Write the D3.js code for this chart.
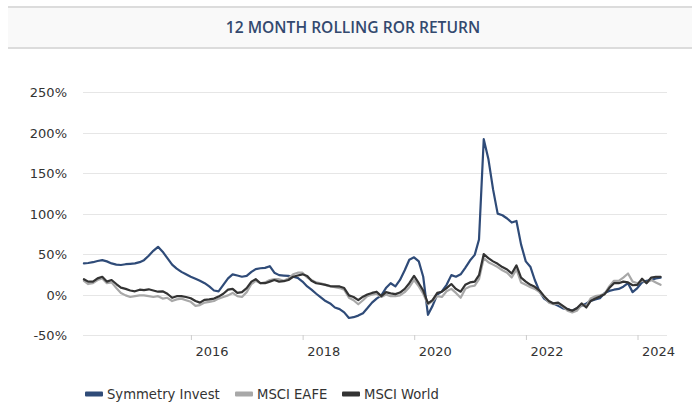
<!DOCTYPE html>
<html>
<head>
<meta charset="utf-8">
<script src="https://cdn.jsdelivr.net/npm/d3@7"></script>
<style>
  body { margin: 0; background: #fff; }
  svg { display: block; }
</style>
</head>
<body>
<svg id="chart" width="700" height="405"></svg>
<script>
// monthly observations, Jan 2014 .. May 2024 (month end)
var firstMonth = new Date(2014, 0, 1);
var symmetry = [38.5, 39, 40, 41.5, 42.5, 41, 38.5, 37, 36.5, 37.5, 38, 38.5,
  40, 42.5, 48, 54, 59, 53, 45, 37, 32, 28, 25, 22,
  19.5, 17, 14, 10, 5, 4, 12, 20, 25, 23.5, 22, 23,
  28, 31.5, 32.5, 33, 35, 27, 24, 23.5, 23, 22, 20.5, 16,
  10, 6, 1, -3.5, -8, -11, -16, -18, -22, -29, -28, -26,
  -23, -17, -10, -5, -1, 8, 14, 10, 18, 30, 43, 46,
  41, 22, -25, -14, 0, 4, 12, 24, 22, 25, 33, 42,
  49, 68, 192, 168, 130, 100, 98, 94, 89, 91, 62, 41,
  34, 18, 4, -5, -9, -11, -14, -17, -18, -20, -17, -14,
  -11, -8, -6, -4.5, 2, 4.5, 6, 7, 9.7, 14, 3, 8,
  15, 17, 18, 20, 21];
var eafe = [17, 13, 14, 18, 20, 14, 15, 8, 2, -1, -3, -2,
  -1, -1, -2, -3, -2, -5, -4, -8, -6, -5, -7, -9,
  -14, -13, -10, -9, -8, -5, -3, -1, 2, -2, -3, 3,
  13, 17, 14, 15, 18, 19, 19, 17, 20, 25, 27, 27,
  21, 18, 15, 14, 12, 10, 9, 8, 6, -4, -7, -12,
  -7, -2, 0, 1, -3, 0, -2, -2, -1, 3, 9, 18,
  10, 1, -12, -8, -2, -3, 4, 7, 2, -4, 7, 10,
  11, 19, 45, 40, 37, 34, 30, 27, 21, 31, 15, 12,
  9, 7, 3, -3, -10, -12, -11, -15, -20, -22, -20, -13,
  -14, -5, -2, -1, 1, 10, 17, 17, 21, 26, 16, 14,
  17, 15, 18, 15, 12];
var world = [19, 16, 16, 20, 22, 16, 18, 13, 8.5, 7, 5, 4,
  6, 5.5, 6.5, 5, 3.5, 4, 1, -4, -2, -2, -3, -4.5,
  -8, -10, -6.5, -6, -5, -2.5, 1, 6, 7, 2, 3, 8,
  16, 19, 14, 14, 16, 18, 16, 16.5, 18, 22, 23.5, 25,
  23, 17, 14, 13, 12, 10.5, 10, 10, 8, -1, -3, -7,
  -2.6, 0, 2, 3.5, -2, 3, 1.5, 0.5, 2.5, 7, 14, 23,
  14, 5, -11, -7, 2, 3.5, 8, 13, 7, 3.5, 12, 15,
  16, 24, 50, 45, 41, 38, 34, 31, 26, 36, 21, 16,
  12, 9.5, 5, -2, -8, -11, -10, -14, -18, -20, -17, -11,
  -16, -8, -5, -2.5, 0.5, 8, 14, 14, 16, 15, 11.5, 12,
  19.5, 14, 21, 22, 22];
var seriesNames = ['Symmetry Invest', 'MSCI EAFE', 'MSCI World'];
var seriesColors = ['#2f4b78', '#a8a8a8', '#333333'];
var yTicks = [-50, 0, 50, 100, 150, 200, 250];
var xTickYears = [2016, 2018, 2020, 2022, 2024];

var months = symmetry.map(function(d, i) {
  return new Date(firstMonth.getFullYear(), firstMonth.getMonth() + i + 1, 0);
});
var allSeries = [symmetry, eafe, world];

var svg = d3.select('#chart');

// title bar
svg.append('rect').attr('x', 8).attr('y', 7).attr('width', 684).attr('height', 41).attr('fill', '#f9f9f9');
svg.append('line').attr('x1', 8).attr('x2', 692).attr('y1', 7).attr('y2', 7).attr('stroke', '#dcdcdc').attr('stroke-width', 2);
svg.append('line').attr('x1', 8).attr('x2', 692).attr('y1', 48).attr('y2', 48).attr('stroke', '#dcdcdc').attr('stroke-width', 2);
svg.append('text').attr('x', 353).attr('y', 33).attr('text-anchor', 'middle')
  .style('font-family', '"Open Sans", sans-serif').style('font-size', '15.6px').style('font-weight', 600)
  .style('fill', '#33496f').text('12 MONTH ROLLING ROR RETURN');

var x = d3.scaleTime().domain([new Date(2014, 0, 25), new Date(2024, 6, 12)]).range([83, 667]);
var y = d3.scaleLinear().domain([-50, 250]).range([335, 92.3]);

// grid
svg.append('g').selectAll('line').data(yTicks).enter().append('line')
  .attr('x1', 83).attr('x2', 667)
  .attr('y1', function(d) { return Math.round(y(d)) + 0.5; })
  .attr('y2', function(d) { return Math.round(y(d)) + 0.5; })
  .attr('stroke', '#e6e6e6').attr('stroke-width', 1);

var yAxis = svg.append('g').attr('transform', 'translate(67,0)')
  .call(d3.axisLeft(y).tickValues(yTicks).tickSize(0).tickFormat(function(d) { return d + '%'; }));
yAxis.select('.domain').remove();
yAxis.selectAll('text').attr('x', 0).attr('dy', '0.35em')
  .style('font-family', '"DejaVu Sans", Verdana, sans-serif').style('font-size', '13px').style('fill', '#333');

var xAxis = svg.append('g').attr('transform', 'translate(0,335)')
  .call(d3.axisBottom(x).tickValues(xTickYears.map(function(yr) { return new Date(yr, 0, 1); }))
    .tickSize(5).tickFormat(d3.timeFormat('%Y')));
xAxis.select('.domain').remove();
xAxis.selectAll('line').attr('stroke', '#cccccc');
xAxis.selectAll('text').attr('text-anchor', 'start').attr('x', 4).attr('y', 21).attr('dy', 0)
  .style('font-family', '"DejaVu Sans", Verdana, sans-serif').style('font-size', '13px').style('fill', '#333');

var line = d3.line()
  .x(function(d, i) { return x(months[i]); })
  .y(function(d) { return y(d); });

svg.append('g').selectAll('path').data(allSeries).enter().append('path')
  .attr('d', line)
  .attr('fill', 'none')
  .attr('stroke', function(d, i) { return seriesColors[i]; })
  .attr('stroke-width', 2.2)
  .attr('stroke-linejoin', 'round')
  .attr('stroke-linecap', 'round');

// legend
var legendX = [85, 235, 342];
var legend = svg.append('g').selectAll('g').data(seriesNames).enter().append('g')
  .attr('transform', function(d, i) { return 'translate(' + legendX[i] + ',394)'; });
legend.append('rect').attr('x', 0).attr('y', -2.5).attr('width', 18).attr('height', 5).attr('rx', 1)
  .attr('fill', function(d, i) { return seriesColors[i]; });
legend.append('text').attr('x', 22).attr('y', 0).attr('dy', '0.35em')
  .style('font-family', '"DejaVu Sans", Verdana, sans-serif').style('font-size', '13.2px').style('fill', '#333')
  .text(function(d) { return d; });
</script>
</body>
</html>
